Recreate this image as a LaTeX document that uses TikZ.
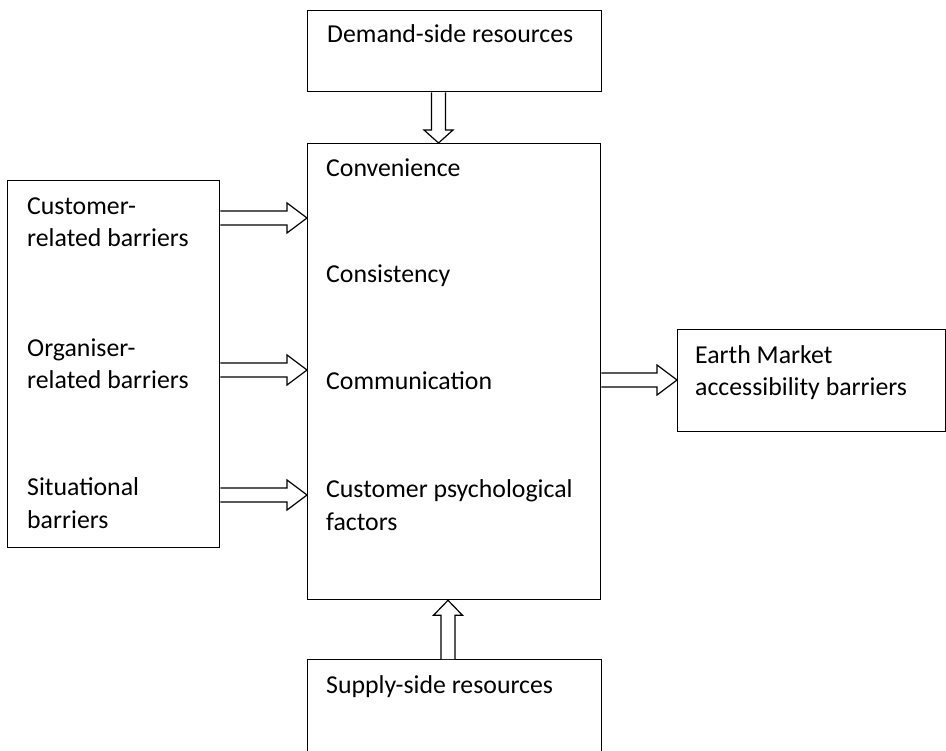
\documentclass[tikz,border=0pt]{standalone}
\usepackage{fontspec}
\setmainfont{Carlito}
\usetikzlibrary{calc}

\tikzset{
  box/.style={draw, line width=1.3pt, anchor=north west, inner sep=0pt},
  txt/.style={anchor=base west, inner sep=0pt, align=left,
    font=\fontsize{25.8}{32.5}\selectfont},
  hbar/.style={draw, fill=white, line width=1.2pt, to path={
      ($(\tikztostart)+(0,-7)$) -- ($(\tikztotarget)+(-20,-7)$) -- ($(\tikztotarget)+(-20,-15)$)
      -- (\tikztotarget) -- ($(\tikztotarget)+(-20,15)$) -- ($(\tikztotarget)+(-20,7)$)
      -- ($(\tikztostart)+(0,7)$)}},
  vbar/.style={draw, fill=white, line width=1.2pt, to path={
      ($(\tikztostart)+(-7,0)$) -- ($(\tikztotarget)+(-7,#1)$) -- ($(\tikztotarget)+(-14.5,#1)$)
      -- (\tikztotarget) -- ($(\tikztotarget)+(14.5,#1)$) -- ($(\tikztotarget)+(7,#1)$)
      -- ($(\tikztostart)+(7,0)$)}}
}

\begin{document}
\begin{tikzpicture}[x=1pt, y=-1pt]

    \useasboundingbox (0,0) rectangle (946,751);
    \clip (0,0) rectangle (946,751);

    % boxes
    \node[box, minimum width=294pt, minimum height=81pt] (demand) at (307,10) {};
    \node[box, minimum width=293pt, minimum height=456pt] (main) at (307,143) {};
    \node[box, minimum width=212pt, minimum height=367pt] (barriers) at (7,180) {};
    \node[box, minimum width=268pt, minimum height=102pt] (earth) at (677,329) {};
    \node[box, minimum width=294pt, minimum height=120pt] (supply) at (307,659) {};

    % texts (multi-line ones sit on their last line)
    \node[txt] (tdemand) at (327,43) {Demand-side resources};
    \node[txt] (conv) at (326,177) {Convenience};
    \node[txt] (cons) at (326,283) {Consistency};
    \node[txt] (comm) at (326,390) {Communication};
    \node[txt] (psych) at (326,530) {Customer psychological\\factors};
    \node[txt] (cust) at (27,247) {Customer-\\related barriers};
    \node[txt] (org) at (27,389) {Organiser-\\related barriers};
    \node[txt] (sit) at (27,528) {Situational\\barriers};
    \node[txt] (tearth) at (695,396) {Earth Market\\accessibility barriers};
    \node[txt] (tsupply) at (326,693) {Supply-side resources};

    % block arrows
    \draw[hbar] (barriers.east |- 0,218) to (main.west |- 0,218);
    \draw[hbar] (barriers.east |- 0,370) to (main.west |- 0,370);
    \draw[hbar] (barriers.east |- 0,495) to (main.west |- 0,495);
    \draw[hbar] (main.east |- 0,380) to (earth.west |- 0,380);
    \draw[vbar=-13] (demand.south -| 438.5,0) to (main.north -| 438.5,0);
    \draw[vbar=15] (supply.north -| 448,0) to (main.south -| 448,0);

\end{tikzpicture}
\end{document}
